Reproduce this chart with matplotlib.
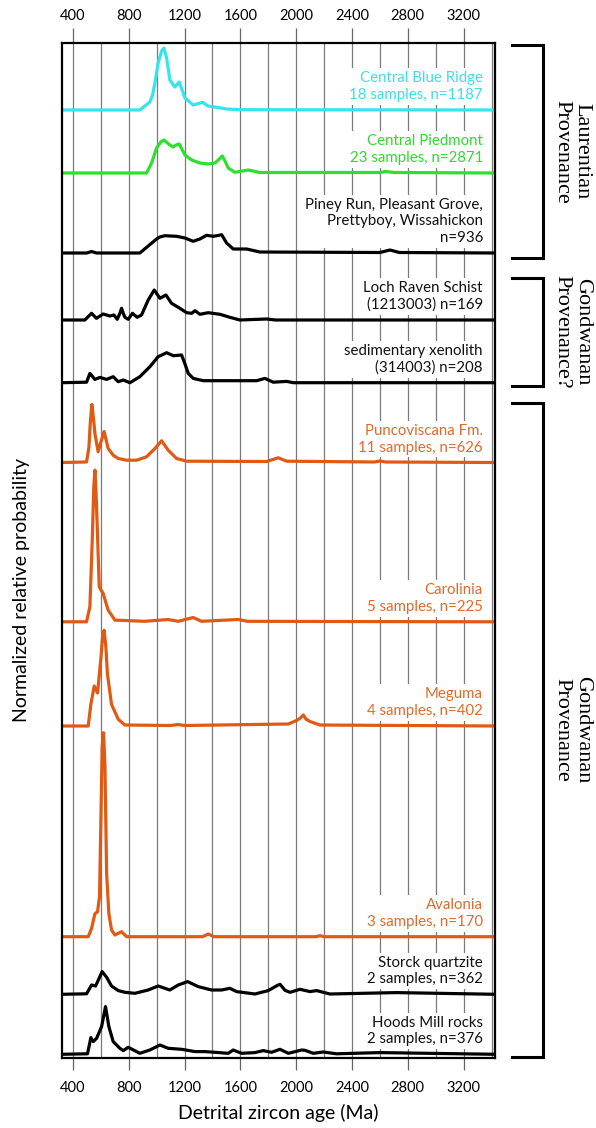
import matplotlib
matplotlib.use("Agg")
import matplotlib.pyplot as plt

plt.rcParams['font.family'] = ['Lato', 'DejaVu Sans']

# ---- data (age in Ma, relative height) ----
names = ["Central Blue Ridge\n18 samples, n=1187",
         "Central Piedmont\n23 samples, n=2871",
         "Piney Run, Pleasant Grove,\nPrettyboy, Wissahickon\nn=936",
         "Loch Raven Schist\n(1213003) n=169",
         "sedimentary xenolith\n(314003) n=208",
         "Puncoviscana Fm.\n11 samples, n=626",
         "Carolinia\n5 samples, n=225",
         "Meguma\n4 samples, n=402",
         "Avalonia\n3 samples, n=170",
         "Storck quartzite\n2 samples, n=362",
         "Hoods Mill rocks\n2 samples, n=376"]

blue_ridge_age = [320, 880, 952, 971, 988, 1011, 1036, 1052, 1072, 1095, 1131, 1162, 1203, 1262,
                  1330, 1368, 1430, 1502, 1600, 3430]
blue_ridge_h = [0, 0, 8, 15, 27, 47, 59, 62, 52, 30, 23, 28, 12, 5, 7.7, 4, 2.7, 1, 0.3, 0]

piedmont_age = [320, 928, 964, 1000, 1030, 1052, 1095, 1119, 1140, 1162, 1203, 1251, 1310, 1370,
                1418, 1450, 1470, 1490, 1513, 1561, 1657, 1740, 2600, 2640, 2700, 3430]
piedmont_h = [0, 0, 10, 25, 31, 33, 28, 26, 28, 29, 18, 13, 10, 9, 10, 14, 17, 12, 5, 0.7, 3,
              0.5, 0.5, 1.5, 0.5, 0]

piney_age = [320, 500, 534, 570, 880, 940, 1000, 1023, 1059, 1100, 1143, 1203, 1262, 1310, 1358,
             1406, 1440, 1466, 1502, 1549, 1645, 1740, 2600, 2672, 2740, 3430]
piney_h = [0, 0, 1.5, 0, 0, 7, 14, 16, 17.3, 17, 16.7, 15, 11.7, 14, 17.7, 16.7, 17.5, 18.3, 10,
           4, 4, 1, 0.5, 3, 0.5, 0]

loch_age = [320, 486, 534, 569, 617, 665, 694, 718, 735, 749, 763, 773, 797, 827, 861, 892, 940,
            983, 1024, 1067, 1107, 1167, 1215, 1251, 1275, 1310, 1370, 1454, 1525, 1597, 1789,
            1850, 3430]
loch_h = [0, 0, 6.7, 1.7, 6, 4, 5, 0.7, 6, 11.7, 6, 2.7, 0.7, 6.7, 2.7, 5, 20, 30, 21.7, 25,
          16.7, 11.7, 7.3, 6.7, 9.3, 5.7, 7.3, 5.7, 2.7, 0, 1, 0, 0]

xeno_age = [320, 498, 522, 558, 594, 642, 689, 725, 761, 809, 880, 952, 1011, 1072, 1119, 1179,
            1200, 1227, 1263, 1334, 1430, 1717, 1776, 1836, 1932, 1980, 3430]
xeno_h = [0, 0.5, 9.3, 3.3, 5.3, 3.3, 6, 1, 2.7, 0, 6, 16, 26, 30, 27, 27.7, 20, 9.3, 4.3, 2, 2,
          2, 4.3, 0.5, 1.3, 0, 0]

punco_age = [320, 498, 515, 525, 536, 547, 558, 581, 600, 624, 653, 689, 725, 785, 857, 928, 988,
             1036, 1083, 1143, 1215, 1789, 1872, 1932, 2560, 2600, 2640, 3430]
punco_h = [0, 0.5, 15, 40, 58, 45, 29, 10.7, 20, 31, 14, 7.3, 4, 2.3, 2.3, 5.7, 14, 21.7, 12.3,
           4, 1.3, 1, 4.7, 1.3, 0.5, 1.5, 0.5, 0]

carol_age = [320, 498, 522, 539, 550, 558, 566, 574, 589, 617, 653, 701, 916, 1083, 1155, 1262,
             1322, 1585, 1650, 3430]
carol_h = [0, 0, 15, 81.7, 135, 151.7, 130, 98, 35, 28.3, 11.7, 1.7, 0.5, 2.3, 0.5, 4.3, 0.5,
           2.3, 0.5, 0]

meguma_age = [320, 510, 529, 553, 577, 601, 612, 624, 636, 648, 677, 725, 773, 1100, 1155, 1200,
              1944, 2003, 2030, 2051, 2070, 2099, 2171, 3430]
meguma_h = [0, 0, 21.7, 40, 33, 68, 88, 95.7, 80, 51.7, 21.7, 6.7, 1, 0.5, 1.5, 0.5, 2, 5.5, 8,
            11, 7, 4.5, 1, 0]

aval_age = [320, 510, 534, 558, 577, 591, 600, 610, 620, 630, 642, 658, 677, 701, 749, 785, 1330,
            1370, 1410, 2140, 2171, 2200, 3430]
aval_h = [0, 0, 8.3, 23, 25, 40, 110, 190, 204, 170, 63, 23, 6.7, 1.7, 5, 0, 0, 2.7, 0, 0, 1, 0, 0]

storck_age = [320, 498, 534, 563, 610, 642, 677, 725, 773, 845, 940, 1011, 1095, 1155, 1222, 1298,
              1394, 1466, 1525, 1573, 1705, 1800, 1867, 1885, 1920, 1956, 2027, 2099, 2147, 2242,
              2720, 3430]
storck_h = [0, 0.5, 9.3, 8.3, 22.7, 17, 8.3, 3.7, 2, 1, 4.3, 8.3, 4.3, 9.3, 12.7, 7.7, 4.3, 4.3,
            6, 2.7, 0.3, 3.7, 9, 10, 4, 2, 5, 2.7, 3.7, 0.3, 1.7, 0]

hoods_age = [320, 505, 529, 546, 570, 606, 634, 658, 689, 737, 761, 797, 880, 952, 1024, 1083,
             1179, 1275, 1346, 1418, 1513, 1549, 1609, 1705, 1764, 1824, 1884, 1944, 2040, 2063,
             2123, 2195, 2290, 2600, 3430]
hoods_h = [0, 0.5, 16.7, 12.7, 16, 27.7, 47.7, 27.7, 12.7, 6, 3.7, 7, 1, 4.3, 9.3, 6, 5, 2.7,
           2.7, 2, 1, 4.3, 1, 1.7, 3.7, 2, 5, 1, 4.3, 4, 1, 2.3, 0.5, 1.7, 0]

ages = [blue_ridge_age, piedmont_age, piney_age, loch_age, xeno_age, punco_age, carol_age,
        meguma_age, aval_age, storck_age, hoods_age]
heights = [blue_ridge_h, piedmont_h, piney_h, loch_h, xeno_h, punco_h, carol_h, meguma_h,
           aval_h, storck_h, hoods_h]

# ---- layout / style ----
# vertical position of each curve baseline (axes units = pixels from bottom)
baselines = [948.3, 885.3, 805.3, 738.3, 675.6, 595.8, 436.5, 332.3, 121.6, 64, 4]
cyan = '#35e4ec'
green = '#2ee02e'
orange = '#e05a14'
colors = [cyan, green, 'black', 'black', 'black', orange, orange, orange, orange, 'black', 'black']
text_colors = ['#3fdde8', '#33d833', '#111111', '#111111', '#111111', '#e06a2a', '#e06a2a',
               '#e06a2a', '#e06a2a', '#111111', '#111111']

W, H = 596, 1128
fig = plt.figure(figsize=(W / 100, H / 100), dpi=100)
ax_l, ax_r, ax_t, ax_b = 61.7, 495, 43.3, 1058.3
ax = fig.add_axes([ax_l / W, 1 - ax_b / H, (ax_r - ax_l) / W, (ax_b - ax_t) / H])
ax.set_xlim(320, 3425)
ax.set_ylim(0, ax_b - ax_t)

# vertical grid every 200 Ma
for g in range(400, 3401, 200):
    ax.axvline(g, color='#7a7a7a', lw=0.9, zorder=0.5)

for a, h, b, c in zip(ages, heights, baselines, colors):
    ax.plot(a, [b + v for v in h], color=c, lw=2.3, zorder=2,
            solid_joinstyle='round', solid_capstyle='round')

for name, b, tc in zip(names, baselines, text_colors):
    ax.text(3339, b + 8, name, ha='right', va='bottom', fontsize=10.8, color=tc,
            linespacing=1.25, zorder=3,
            bbox=dict(facecolor='white', edgecolor='none', pad=2))

ticks = list(range(400, 3201, 400))
ax.set_yticks([])
ax.set_xticks(ticks)
ax.tick_params(axis='x', direction='out', length=8.6, width=0.9, color='#666666',
               labelsize=10.5, pad=8)
top = ax.secondary_xaxis('top')
top.set_xticks(ticks)
top.tick_params(axis='x', direction='out', length=10.8, width=0.9, color='#666666',
                labelsize=10.5, pad=4)
top.spines['top'].set_visible(False)
for s in ax.spines.values():
    s.set_linewidth(1.6)

fig.text(278 / W, 1 - 1113 / H, 'Detrital zircon age (Ma)', ha='center', va='center',
         fontsize=14)
fig.text(22 / W, 1 - 590 / H, 'Normalized relative probability', ha='center', va='center',
         rotation=90, fontsize=14)

# provenance brackets on the right
groups = ["Laurentian\nProvenance", "Gondwanan\nProvenance?", "Gondwanan\nProvenance"]
group_spans = [(45, 258), (278, 386), (403, 1057)]
for label, (y0, y1) in zip(groups, group_spans):
    fig.add_artist(plt.Line2D([512 / W, 543 / W, 543 / W, 512 / W],
                              [1 - y0 / H, 1 - y0 / H, 1 - y1 / H, 1 - y1 / H],
                              color='black', lw=2.2, solid_joinstyle='miter'))
    fig.text(572 / W, 1 - (y0 + y1) / 2 / H, label, rotation=270, ha='center', va='center',
             fontsize=16, family='Liberation Serif', linespacing=1.1)

fig.savefig('out.png', dpi=100)
